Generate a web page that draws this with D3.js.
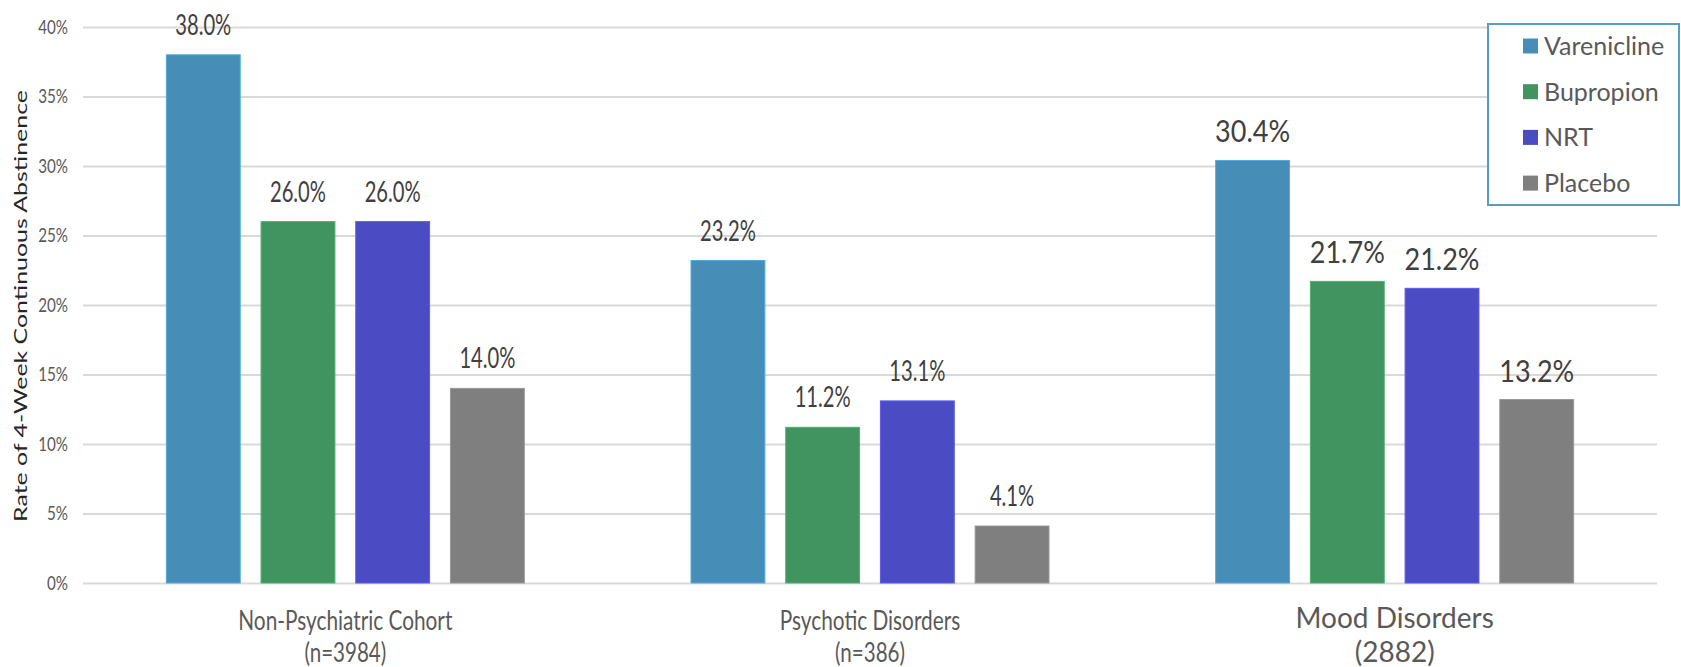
<!DOCTYPE html>
<html>
<head>
<meta charset="utf-8">
<script src="https://cdn.jsdelivr.net/npm/d3@7"></script>
<style>
  html, body { margin: 0; padding: 0; background: #ffffff; }
  svg { display: block; }
  text { font-family: Lato, "Open Sans", sans-serif; }
</style>
</head>
<body>
<svg id="chart" width="1681" height="667"></svg>
<script>
// Cohorts along the x axis (two-line labels)
const categories = ["Non-Psychiatric Cohort", "Psychotic Disorders", "Mood Disorders"];
const categorySubLabels = ["(n=3984)", "(n=386)", "(2882)"];

// Treatment arms
const seriesNames = ["Varenicline", "Bupropion", "NRT", "Placebo"];
const seriesColors = ["#468eb7", "#41935f", "#4b4cc4", "#7f7f7f"];

// Rate of 4-week continuous abstinence (%) per cohort
const varenicline = [38.0, 23.2, 30.4];
const bupropion   = [26.0, 11.2, 21.7];
const nrt         = [26.0, 13.1, 21.2];
const placebo     = [14.0, 4.1, 13.2];

// Y axis ticks
const yTicks = [0, 5, 10, 15, 20, 25, 30, 35, 40];
const yTitle = "Rate of 4-Week Continuous Abstinence";

const seriesValues = [varenicline, bupropion, nrt, placebo];
const rows = categories.map((c, i) => ({
  category: c,
  index: i,
  values: seriesNames.map((s, j) => ({ series: s, value: seriesValues[j][i], category: c, index: i }))
}));

const svg = d3.select("#chart");

const x0 = d3.scaleBand().domain(categories).range([83, 1657]).padding(0);
const x1 = d3.scaleBand().domain(seriesNames).range([0, x0.bandwidth()])
  .paddingInner(0.22).paddingOuter(0.88);
const y = d3.scaleLinear().domain([0, 40]).range([583, 27]);
const color = d3.scaleOrdinal().domain(seriesNames).range(seriesColors);

// Squeeze or stretch text horizontally while keeping it as real text
function fitWidth(sel, k) {
  sel.each(function () {
    const w = this.getComputedTextLength();
    d3.select(this).attr("textLength", w * k).attr("lengthAdjust", "spacingAndGlyphs");
  });
}

// Gridlines and tick labels
const yAxis = d3.axisLeft(y).tickValues(yTicks).tickFormat(d => d + "%")
  .tickSize(-(x0.range()[1] - x0.range()[0])).tickPadding(15);
const gy = svg.append("g").attr("transform", `translate(${x0.range()[0]},0)`).call(yAxis);
gy.select(".domain").remove();
gy.selectAll(".tick line").attr("stroke", "#d9d9d9").attr("stroke-width", 2);
gy.selectAll(".tick text")
  .attr("fill", "#595959").attr("font-size", 19).attr("font-family", "Lato")
  .call(fitWidth, 0.8);

// Y axis title
svg.append("text")
  .attr("transform", `translate(27,306) rotate(-90)`)
  .attr("text-anchor", "middle")
  .attr("font-size", 18)
  .attr("fill", "#262626")
  .attr("textLength", 432)
  .attr("lengthAdjust", "spacingAndGlyphs")
  .text(yTitle);

// Bars
const groups = svg.append("g").selectAll("g").data(rows).join("g")
  .attr("transform", d => `translate(${x0(d.category)},0)`);

groups.selectAll("rect").data(d => d.values).join("rect")
  .attr("x", d => x1(d.series))
  .attr("y", d => y(d.value))
  .attr("width", x1.bandwidth())
  .attr("height", d => y(0) - y(d.value))
  .attr("fill", d => color(d.series))
  .attr("stroke", d => d3.color(color(d.series)).brighter(0.5))
  .attr("stroke-width", 1);

// Value labels
const condensed = i => i < 2;
groups.selectAll("text.val").data(d => d.values).join("text")
  .attr("class", "val")
  .attr("x", d => x1(d.series) + x1.bandwidth() / 2)
  .attr("y", d => y(d.value) - (condensed(d.index) ? 20 : 18))
  .attr("text-anchor", "middle")
  .attr("font-size", d => condensed(d.index) ? 28 : 30)
  .attr("fill", "#404040")
  .text(d => d.value.toFixed(1) + "%")
  .each(function (d) { fitWidth(d3.select(this), condensed(d.index) ? 0.72 : 0.9); });

// Category labels
const catG = svg.append("g").selectAll("g").data(rows).join("g")
  .attr("transform", d => `translate(${x0(d.category) + x0.bandwidth() / 2},0)`);

catG.append("text")
  .attr("y", d => condensed(d.index) ? 630 : 628)
  .attr("text-anchor", "middle")
  .attr("font-size", d => condensed(d.index) ? 26 : 28)
  .attr("fill", "#595959")
  .text(d => d.category)
  .each(function (d) { fitWidth(d3.select(this), condensed(d.index) ? 0.8 : 1.0); });

catG.append("text")
  .attr("y", 662)
  .attr("text-anchor", "middle")
  .attr("font-size", d => condensed(d.index) ? 26 : 28)
  .attr("fill", "#595959")
  .text((d, i) => categorySubLabels[i])
  .each(function (d) { fitWidth(d3.select(this), condensed(d.index) ? 0.79 : 1.0); });

// Legend
const legend = svg.append("g");
legend.append("rect")
  .attr("x", 1488).attr("y", 24).attr("width", 191).attr("height", 181)
  .attr("fill", "#ffffff").attr("stroke", "#5b9bc8").attr("stroke-width", 2);

const li = legend.selectAll("g").data(seriesNames).join("g")
  .attr("transform", (d, i) => `translate(1523,${46 + i * 45.7})`);
li.append("rect").attr("x", 0).attr("y", -7.5).attr("width", 15).attr("height", 15)
  .attr("fill", d => color(d));
li.append("text").attr("x", 21).attr("dy", "0.36em")
  .attr("font-size", 25).attr("fill", "#595959")
  .text(d => d);
</script>
</body>
</html>
